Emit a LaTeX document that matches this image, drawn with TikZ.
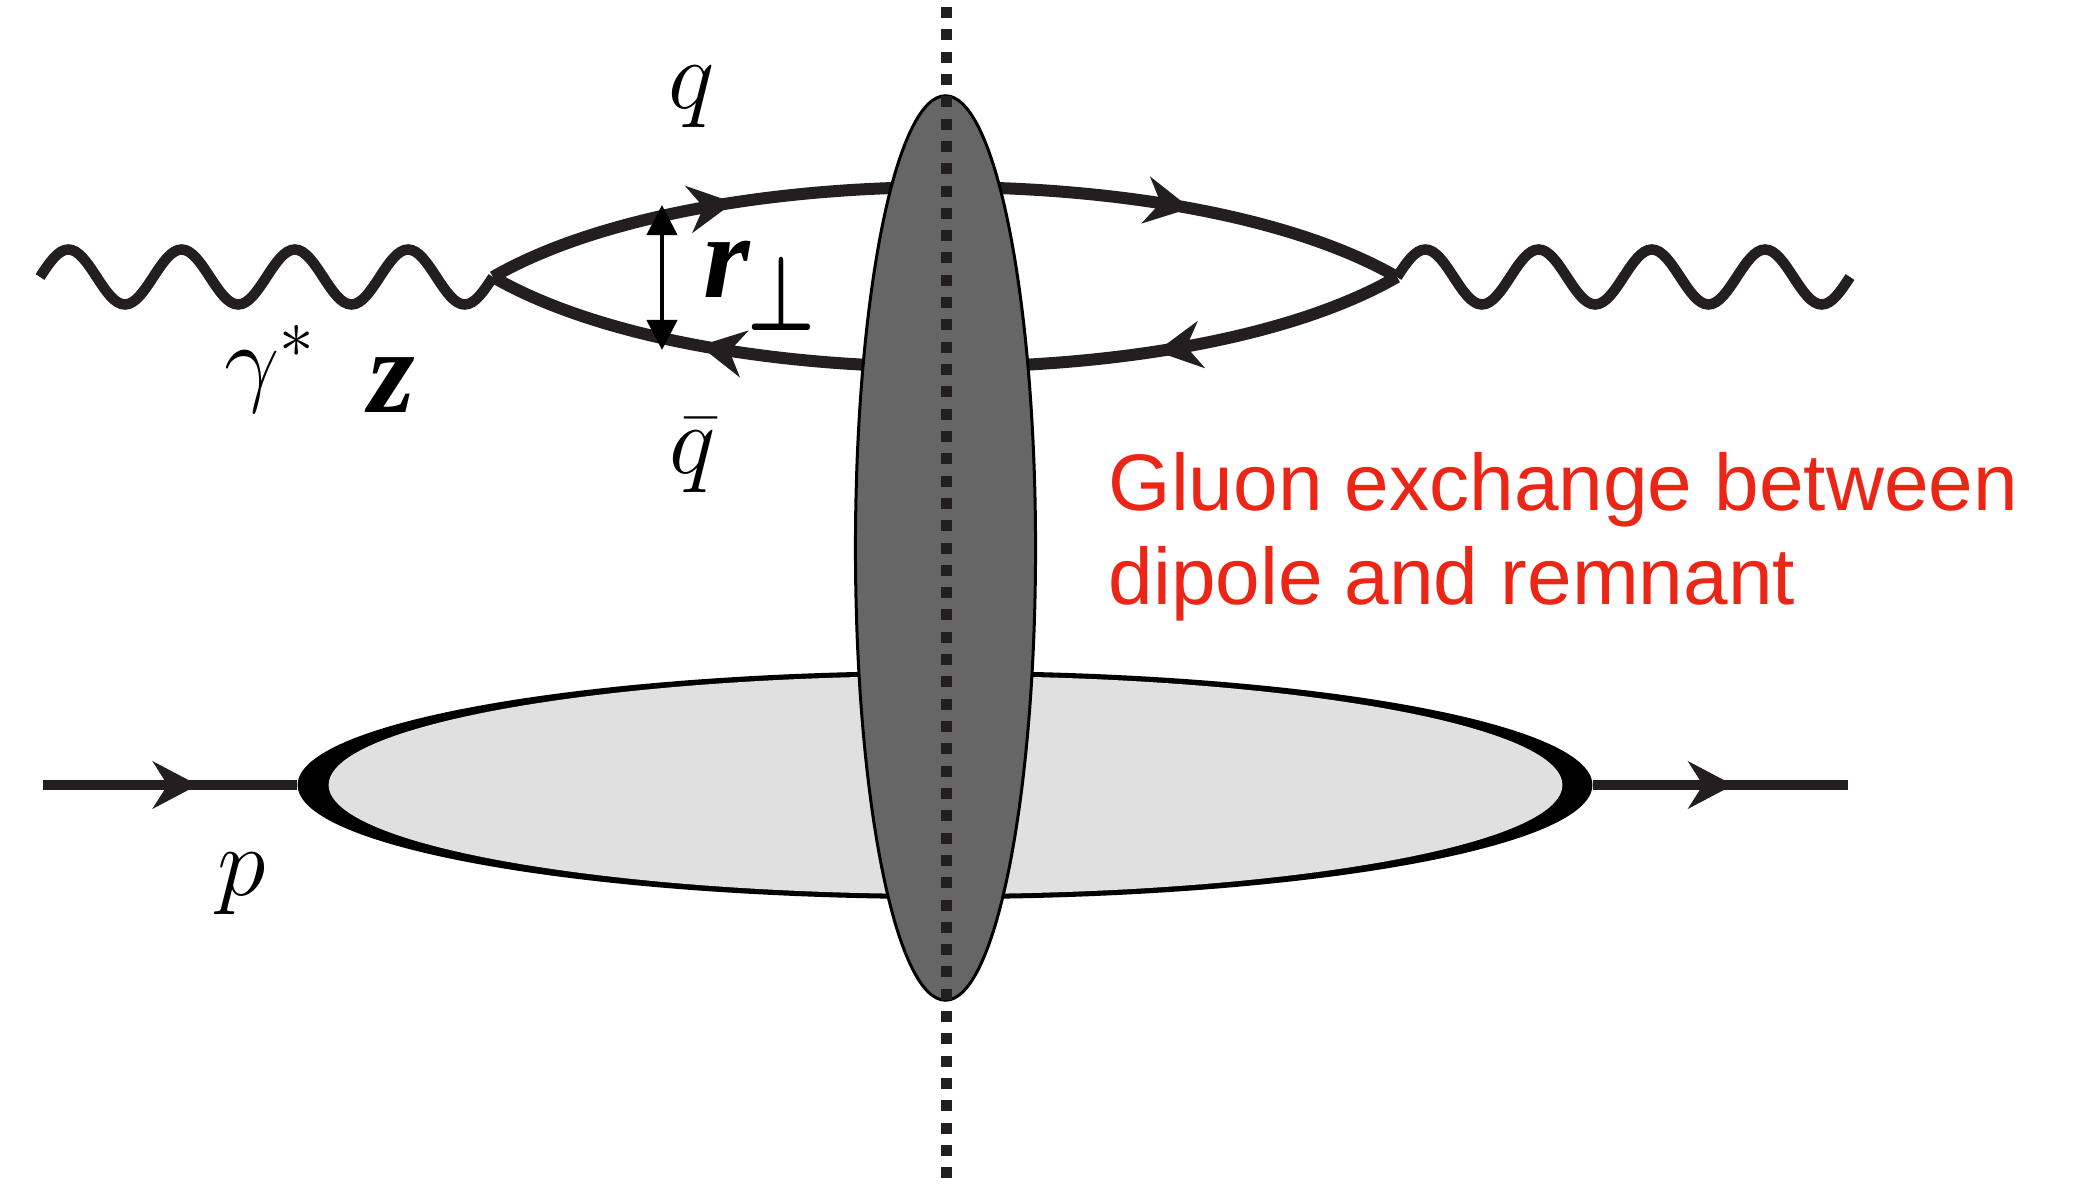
\RequirePackage{fix-cm}
\documentclass[tikz,border=0pt]{standalone}
\usepackage{amsmath,amssymb}
\usepackage{fontspec}
\newfontfamily\labelsans{Liberation Sans}
\newfontfamily\labelserif{Liberation Serif}
\usetikzlibrary{arrows.meta,positioning,shapes.geometric,decorations.markings}
\definecolor{ink}{RGB}{35,31,32}
\definecolor{gluonred}{RGB}{235,38,22}
\definecolor{cutgray}{RGB}{102,102,102}
\definecolor{blobgray}{RGB}{224,224,224}
\tikzset{
  x=0.01cm, y=0.01cm,
  qtip/.tip={Stealth[length=0.45cm,width=0.47cm]},
  tri/.tip={Triangle[length=0.3cm,width=0.3cm]},
  fermion/.style={draw=ink,line width=0.12cm,postaction={decorate},
    decoration={markings,
      mark=at position 0.272 with {\arrow{qtip}},
      mark=at position 0.765 with {\arrow{qtip}}}},
  photon/.style={draw=ink,line width=0.105cm},
  proton/.style={draw=ink,line width=0.1cm,postaction={decorate},
    decoration={markings,mark=at position #1 with {\arrow{qtip}}}},
  dipsize/.style={tri-tri,line width=0.045cm},
  mlab/.style={inner sep=0pt,font=\fontsize{28}{34}\selectfont},
  blab/.style={inner sep=0pt,font=\fontsize{34}{40}\selectfont\labelserif\bfseries\itshape},
  gluonnote/.style={inner sep=0pt,anchor=base west,text=gluonred,
    font=\fontsize{22.8}{27}\selectfont\labelsans},
  protonblob/.style={ellipse,inner sep=0pt},
  cutline/.style={draw=ink,line width=0.11cm,
    dash pattern=on 0.11cm off 0.113cm,dash phase=0.153cm},
}
\begin{document}
\begin{tikzpicture}
  \useasboundingbox (0,0) rectangle (2081,1184);
  % proton and remnant
  \node[protonblob,fill=black,minimum width=12.94cm,minimum height=2.28cm] (blob) at (945,399) {};
  \node[protonblob,fill=blobgray,minimum width=12.33cm,minimum height=2.18cm] (core) at (945.5,399) {};
  \coordinate (pL) at (43,399);
  \coordinate (pR) at (1848,399);
  \draw[proton=0.61] (pL) -- (blob.west);
  \draw[proton=0.55] (blob.east) -- (pR);
  % photon and dipole
  \coordinate (gL) at (40,907);
  \coordinate (vL) at (493,907);
  \coordinate (vR) at (1397,907);
  \draw[photon] (gL) \foreach \k in {1,...,4}{sin ++(28.3125,27.5) cos ++(28.3125,-27.5)
    sin ++(28.3125,-27.5) cos ++(28.3125,27.5)};
  \draw[photon] (vR) \foreach \k in {1,...,4}{sin ++(28.3125,27.5) cos ++(28.3125,-27.5)
    sin ++(28.3125,-27.5) cos ++(28.3125,27.5)};
  \draw[fermion] (vL) to[out=30,in=150,looseness=0.68] (vR);
  \draw[fermion] (vR) to[out=-150,in=-30,looseness=0.68] (vL);
  \coordinate (rT) at (662,979);
  \coordinate (rB) at (662,834);
  \draw[dipsize] (rT) -- (rB);
  % labels
  \node[mlab] (q) at (692,1087) {$q$};
  \node[mlab] (qbar) at (693,728) {$\bar{q}$};
  \node[mlab] (gam) at (270,815) {$\gamma^*$};
  \node[blab] (zlab) at (392,799) {z};
  \node[mlab] (plab) at (242,300) {$p$};
  \node[blab,anchor=base west] (rlab) at (703,886)
    {r\kern-0.03cm\raisebox{-0.32cm}{\fontsize{30}{36}\selectfont\scalebox{0.72}[1]{$\boldsymbol{\perp}$}}};
  \node[gluonnote] (gl1) at (1108,673) {Gluon exchange between};
  \node[gluonnote] (gl2) at (1108,580) {dipole and remnant};
  % cut through the exchange
  \node[protonblob,fill=cutgray,draw=black,line width=0.03cm,
    minimum width=1.8cm,minimum height=9.04cm] (cut) at (945.5,636) {};
  \coordinate (cT) at (946,1184);
  \coordinate (cB) at (946,0);
  \draw[cutline] (cT) -- (cB);
\end{tikzpicture}
\end{document}
